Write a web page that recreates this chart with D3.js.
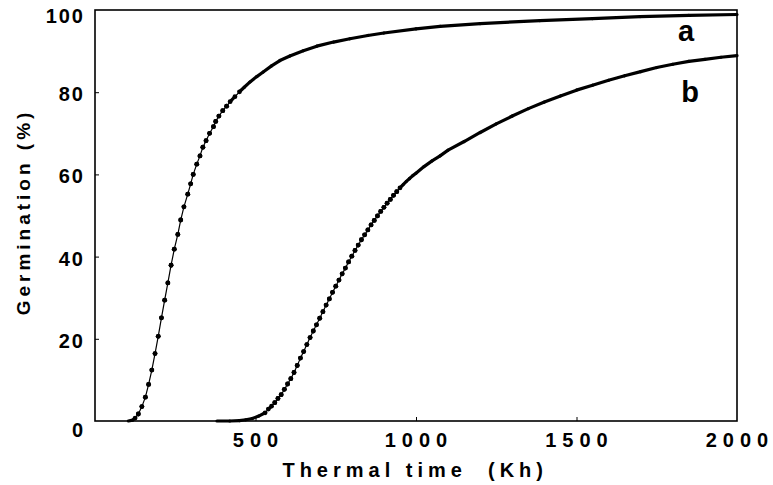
<!DOCTYPE html>
<html>
<head>
<meta charset="utf-8">
<script src="https://cdn.jsdelivr.net/npm/d3@7"></script>
<style>
  body { margin: 0; background: #fff; }
  text { font-family: "Liberation Sans", Arial, sans-serif; fill: #000; }
</style>
</head>
<body>
<div id="chart"></div>
<script>
// curve a
var aTime = [104, 117, 125, 135, 146, 157, 167, 177, 187, 197, 207, 217, 227, 237, 247, 258, 267, 277,
    289, 298, 306, 317, 327, 336, 346, 357, 369, 376, 386, 398, 410, 421, 436, 450, 465, 483, 504,
    524, 550, 576, 607, 649, 691, 743, 794, 850, 900, 1000, 1075, 1200, 1386, 1550, 1698, 1850, 2000];
var aGerm = [0, 0.2, 0.7, 1.7, 3.5, 5.8, 8.9, 12.4, 16.4, 20.6, 25.1, 29.4, 33.6, 37.9, 41.8, 45.4, 48.9, 52.1,
    55.2, 57.7, 60.0, 62.5, 64.5, 66.6, 68.2, 70.0, 71.6, 72.9, 74.2, 75.5, 76.6, 77.7, 78.9, 80.1, 81.2, 82.5, 83.8,
    84.9, 86.4, 87.7, 88.8, 90.1, 91.2, 92.2, 93.0, 93.8, 94.4, 95.4, 96.0, 96.7, 97.4, 97.9, 98.4, 98.7, 98.9];

// curve b
var bTime = [380, 420, 450, 470, 490, 510, 530, 540, 550, 560, 570, 580, 590, 600, 610, 620, 630, 640,
    650, 660, 670, 680, 690, 700, 710, 720, 730, 740, 750, 760, 770, 780, 790, 800, 810, 820, 830, 840,
    850, 860, 870, 880, 890, 900, 910, 920, 930, 940, 950, 960, 970, 980, 990, 1000, 1025, 1050, 1075,
    1100, 1150, 1200, 1250, 1300, 1350, 1400, 1450, 1500, 1550, 1600, 1650, 1700, 1750, 1800, 1850,
    1900, 1950, 2000];
var bGerm = [0, 0, 0.1, 0.3, 0.6, 1.2, 2.0, 2.9, 3.6, 4.45, 5.5, 6.4, 7.7, 9.0, 10.3, 11.8, 13.5, 15.3,
    16.9, 18.6, 20.3, 21.9, 23.4, 25.0, 26.6, 28.2, 29.7, 31.3, 32.8, 34.3, 35.8, 37.2, 38.7, 40.1, 41.5, 42.8, 44.1, 45.3,
    46.5, 47.7, 48.8, 49.9, 51.0, 52.0, 53.0, 53.9, 54.9, 55.8, 56.7, 57.5, 58.3, 59.0, 59.7, 60.3, 61.9, 63.3, 64.5,
    65.9, 68.0, 70.2, 72.3, 74.2, 76.0, 77.6, 79.1, 80.5, 81.7, 82.9, 84.0, 85.0, 86.0, 86.8, 87.5,
    88.0, 88.5, 88.9];

var xTicks = [500, 1000, 1500, 2000];
var yTicks = [0, 20, 40, 60, 80, 100];
var curveNames = ["a", "b"];

var width = 773, height = 485;
var margin = {top: 10, right: 36, bottom: 64, left: 95};

var svg = d3.select("#chart")
    .append("svg")
    .attr("width", width)
    .attr("height", height);

svg.append("rect").attr("width", width).attr("height", height).attr("fill", "#fff");

var x = d3.scaleLinear()
    .domain([0, 2000])
    .range([margin.left, width - margin.right]);
var y = d3.scaleLinear()
    .domain([0, 100])
    .range([height - margin.bottom, margin.top]);

// frame
svg.append("rect")
    .attr("x", x(0)).attr("y", y(100))
    .attr("width", x(2000) - x(0)).attr("height", y(0) - y(100))
    .attr("fill", "none").attr("stroke", "#000").attr("stroke-width", 1.6);

// axes: inward ticks, labels drawn separately
svg.append("g")
    .attr("transform", "translate(0," + y(0) + ")")
    .call(d3.axisTop(x).tickValues([500, 1000, 1500]).tickSize(4).tickFormat(""))
    .call(function (g) { g.select(".domain").remove(); });
svg.append("g")
    .attr("transform", "translate(" + x(0) + ",0)")
    .call(d3.axisRight(y).tickValues([20, 40, 60, 80]).tickSize(4).tickFormat(""))
    .call(function (g) { g.select(".domain").remove(); });

// tick labels
svg.append("g").selectAll("text")
    .data(xTicks)
    .enter().append("text")
    .attr("x", function (d) { return x(d) + 3; })
    .attr("y", y(0) + 26)
    .attr("text-anchor", "middle")
    .style("font-size", "20px")
    .style("font-weight", "bold")
    .style("letter-spacing", "6px")
    .text(function (d) { return d; });

svg.append("g").selectAll("text")
    .data(yTicks)
    .enter().append("text")
    .attr("x", x(0) - 10)
    .attr("y", function (d) { return y(d) + (d === 0 ? 16 : d === 100 ? 13 : 9); })
    .attr("text-anchor", "end")
    .style("font-size", "20px")
    .style("font-weight", "bold")
    .style("letter-spacing", "2px")
    .text(function (d) { return d; });

// axis titles
svg.append("text")
    .attr("x", 548)
    .attr("y", 477)
    .attr("text-anchor", "end")
    .attr("xml:space", "preserve")
    .style("font-size", "20px")
    .style("font-weight", "bold")
    .style("letter-spacing", "5px")
    .style("white-space", "pre")
    .text("Thermal time  (Kh)");

svg.append("text")
    .attr("transform", "translate(30," + 212 + ") rotate(-90)")
    .attr("text-anchor", "middle")
    .style("font-size", "19px")
    .style("font-weight", "bold")
    .style("letter-spacing", "4px")
    .text("Germination (%)");

// draws one curve: thin line with dots where the points are spread,
// thick line where they run together
function drawCurve(times, germ) {
    var pts = times.map(function (t, i) { return {t: t, g: germ[i]}; });
    var g = svg.append("g");
    var thin = [];
    for (var i = 1; i < pts.length; i++) {
        var p0 = pts[i - 1], p1 = pts[i];
        var dx = x(p1.t) - x(p0.t), dy = y(p1.g) - y(p0.g);
        var step = Math.sqrt(dx * dx + dy * dy) * 10 / (p1.t - p0.t);
        var dense = step < 4.6;
        g.append("line")
            .attr("x1", x(p0.t)).attr("y1", y(p0.g))
            .attr("x2", x(p1.t)).attr("y2", y(p1.g))
            .attr("stroke", "#000")
            .attr("stroke-linecap", "round")
            .attr("stroke-width", dense ? 3.2 : 1.2);
        if (!dense) { thin.push(p0); thin.push(p1); }
    }
    g.selectAll("circle")
        .data(thin)
        .enter().append("circle")
        .attr("cx", function (d) { return x(d.t); })
        .attr("cy", function (d) { return y(d.g); })
        .attr("r", 2.4)
        .attr("fill", "#000");
}

drawCurve(aTime, aGerm);
drawCurve(bTime, bGerm);

// curve labels
svg.append("text")
    .attr("x", 686).attr("y", 41)
    .attr("text-anchor", "middle")
    .style("font-size", "29px")
    .style("font-weight", "bold")
    .text(curveNames[0]);
svg.append("text")
    .attr("x", 690).attr("y", 102)
    .attr("text-anchor", "middle")
    .style("font-size", "29px")
    .style("font-weight", "bold")
    .text(curveNames[1]);
</script>
</body>
</html>
